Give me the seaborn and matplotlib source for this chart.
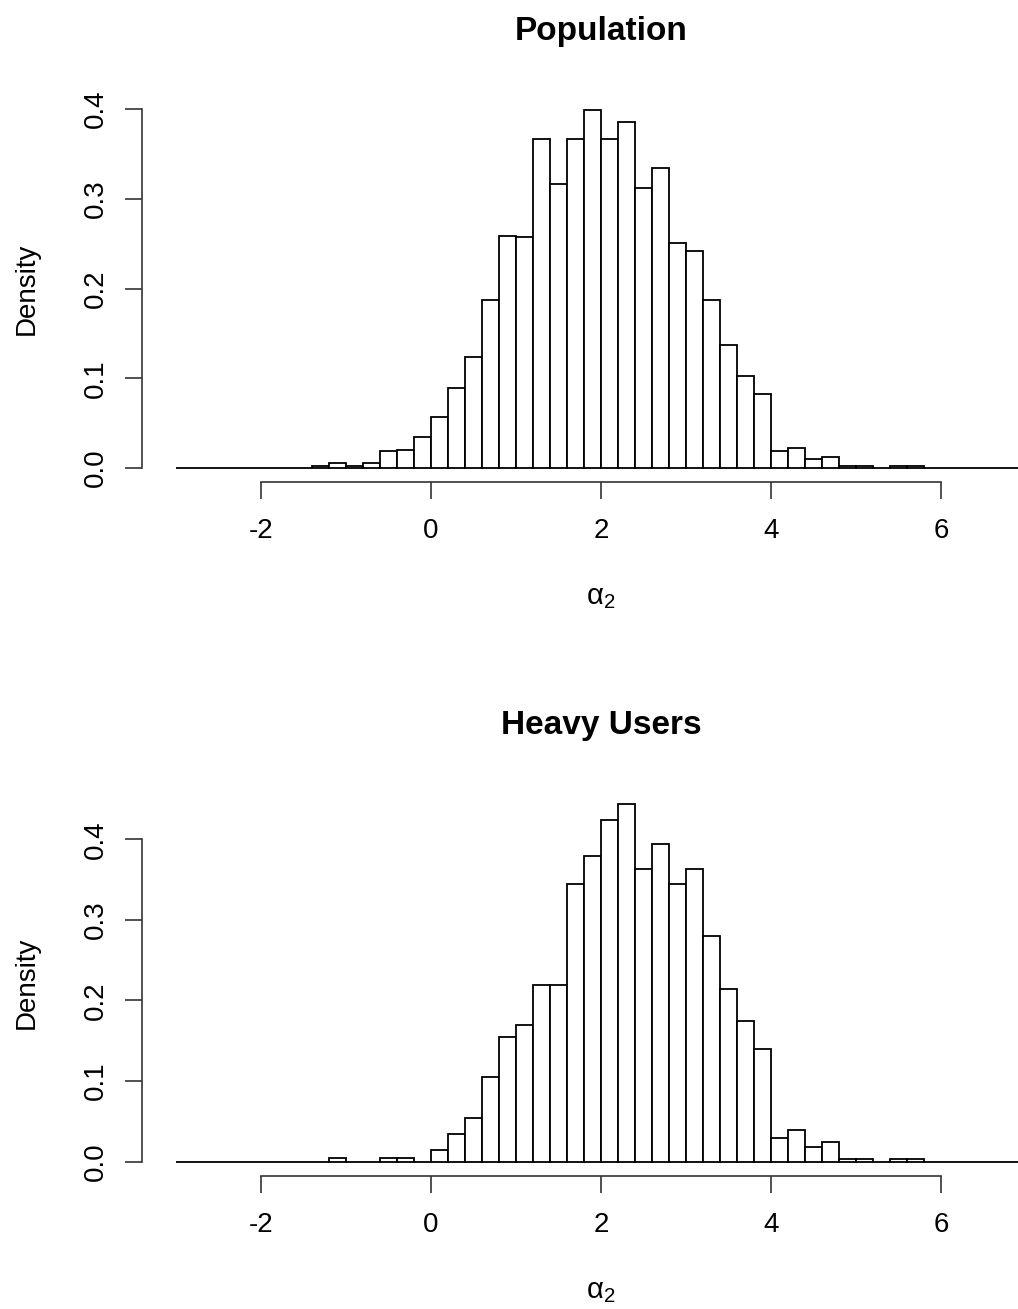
import numpy as np
import pandas as pd
import matplotlib
matplotlib.use('Agg')
import matplotlib.pyplot as plt
import seaborn as sns

# Histogram bin edges (width 0.2, from -3 to 7)
bin_edges = np.round(np.linspace(-3.0, 7.0, 51), 1)
bin_left = bin_edges[:-1]

# Density per bin (left edge -3.0 ... 6.8)
population_density = [
    0, 0, 0, 0, 0, 0, 0, 0,                     # -3.0 .. -1.6
    0.0025, 0.005, 0.0025, 0.005, 0.0185, 0.02, 0.035,   # -1.4 .. -0.2
    0.0565, 0.089, 0.124, 0.187, 0.259,         # 0.0 .. 0.8
    0.258, 0.3666, 0.317, 0.3666, 0.399,        # 1.0 .. 1.8
    0.3666, 0.386, 0.312, 0.334, 0.251,         # 2.0 .. 2.8
    0.242, 0.187, 0.137, 0.1025, 0.082,         # 3.0 .. 3.8
    0.019, 0.022, 0.0097, 0.012, 0.0025,        # 4.0 .. 4.8
    0.0025, 0, 0.002, 0.002,                    # 5.0 .. 5.6
    0, 0, 0, 0, 0, 0,                           # 5.8 .. 6.8
]

heavy_density = [
    0, 0, 0, 0, 0, 0, 0, 0, 0,                  # -3.0 .. -1.4
    0.004, 0, 0, 0.004, 0.004, 0,               # -1.2 .. -0.2
    0.0145, 0.0344, 0.054, 0.1047, 0.1544,      # 0.0 .. 0.8
    0.169, 0.219, 0.219, 0.344, 0.379,          # 1.0 .. 1.8
    0.424, 0.444, 0.3635, 0.394, 0.344,         # 2.0 .. 2.8
    0.3635, 0.280, 0.214, 0.1745, 0.1395,       # 3.0 .. 3.8
    0.0296, 0.0388, 0.0188, 0.0248, 0.0037,     # 4.0 .. 4.8
    0.0037, 0, 0.0037, 0.0037,                  # 5.0 .. 5.6
    0, 0, 0, 0, 0, 0,                           # 5.8 .. 6.8
]

panel_titles = ['Population', 'Heavy Users']
x_ticks = [-2, 0, 2, 4, 6]
y_ticks = [0.0, 0.1, 0.2, 0.3, 0.4]

sns.set_style('ticks')
plt.rcParams['font.family'] = ['Liberation Sans', 'DejaVu Sans']
plt.rcParams['text.color'] = 'black'
plt.rcParams['axes.labelcolor'] = 'black'

W, H = 1018, 1309
fig = plt.figure(figsize=(W / 100, H / 100), dpi=100)

# plot regions in pixels: left, bottom edge (from top), width, height
ax_left, ax_width, ax_height = 142, 918, 386.6
bottoms = [482.3, 1176.0]

for title, dens, bot in zip(panel_titles, [population_density, heavy_density], bottoms):
    ax = fig.add_axes([ax_left / W, (H - bot) / H, ax_width / W, ax_height / H])
    df = pd.DataFrame({'x': bin_left + 0.1, 'density': dens})
    sns.histplot(data=df, x='x', weights='density', binwidth=0.2, binrange=(-3, 7),
                 stat='count', color='white', alpha=1, edgecolor='black',
                 linewidth=1.3, ax=ax)

    ymax = max(dens)
    ax.set_xlim(-3.4, 7.4)
    ax.set_ylim(-0.04 * ymax, 1.04 * ymax)

    for s in ['top', 'right']:
        ax.spines[s].set_visible(False)
    ax.spines['bottom'].set_bounds(-2, 6)
    ax.spines['left'].set_bounds(0, 0.4)
    for s in ['bottom', 'left']:
        ax.spines[s].set_linewidth(1.2)
        ax.spines[s].set_color('#333333')

    ax.set_xticks(x_ticks)
    ax.set_xticklabels([str(t) for t in x_ticks])
    ax.set_yticks(y_ticks)
    ax.set_yticklabels([f'{t:.1f}' for t in y_ticks])
    ax.tick_params(axis='both', direction='out', length=12, width=1.2,
                   color='#333333', labelsize=20, labelcolor='black')
    ax.tick_params(axis='x', pad=14)
    ax.tick_params(axis='y', pad=12)
    plt.setp(ax.get_yticklabels(), rotation=90, va='center')

    ax.set_ylabel('Density', fontsize=20, color='black')
    ax.yaxis.set_label_coords(-0.111, 0.5)
    ax.set_xlabel(r'$\mathregular{\alpha_2}$', fontsize=21, color='black')
    ax.xaxis.set_label_coords(0.5, -0.26)
    ax.set_title(title, fontsize=24, fontweight='bold', pad=40, color='black')
    ax.grid(False)

fig.savefig('out.png', dpi=100, facecolor='white')
